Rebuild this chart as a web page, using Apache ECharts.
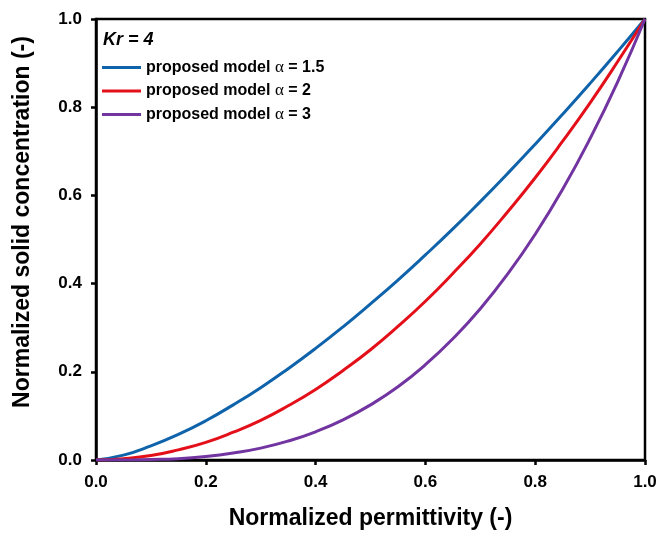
<!DOCTYPE html>
<html>
<head>
<meta charset="utf-8">
<script src="https://cdn.jsdelivr.net/npm/echarts@6/dist/echarts.min.js"></script>
<style>
html,body{margin:0;padding:0;background:#fff;}
#chart{width:661px;height:535px;}
</style>
</head>
<body>
<div id="chart"></div>
<script>
// Data
const xValues = [0, 0.05, 0.1, 0.15, 0.2, 0.25, 0.3, 0.35, 0.4, 0.45, 0.5, 0.55, 0.6, 0.65, 0.7, 0.75, 0.8, 0.85, 0.9, 0.95, 1.0];
const alpha15 = [0, 0.011, 0.032, 0.058, 0.089, 0.125, 0.164, 0.207, 0.253, 0.302, 0.354, 0.408, 0.465, 0.524, 0.586, 0.650, 0.716, 0.784, 0.854, 0.926, 1.0];
const alpha2  = [0, 0.003, 0.010, 0.023, 0.040, 0.063, 0.090, 0.123, 0.160, 0.203, 0.250, 0.303, 0.360, 0.423, 0.490, 0.563, 0.640, 0.723, 0.810, 0.903, 1.0];
const alpha3  = [0, 0.000, 0.001, 0.003, 0.008, 0.016, 0.027, 0.043, 0.064, 0.091, 0.125, 0.166, 0.216, 0.275, 0.343, 0.422, 0.512, 0.614, 0.729, 0.857, 1.0];
const seriesNames = ['proposed model α = 1.5', 'proposed model α = 2', 'proposed model α = 3'];
const alphaLabels = ['1.5', '2', '3'];
const tickValues = [0, 0.2, 0.4, 0.6, 0.8, 1.0];
const annotation = 'Kr = 4';
const xTitle = 'Normalized permittivity (-)';
const yTitle = 'Normalized solid concentration (-)';

const colors = ['#0f63ab', '#e3101a', '#7134a0'];
const FONT = 'Liberation Sans, Arial, sans-serif';

function pairs(ys) { return xValues.map((x, i) => [x, ys[i]]); }

const chart = echarts.init(document.getElementById('chart'));
const axisCommon = {
  min: 0, max: 1, interval: 0.2,
  axisLine: { show: true, lineStyle: { color: '#000', width: 2.5 } },
  axisTick: { show: true, inside: false, length: 5, lineStyle: { color: '#000', width: 2.5 } },
  splitLine: { show: false },
  axisLabel: { color: '#000', fontWeight: 'bold', fontSize: 17, fontFamily: FONT, margin: 14,
    formatter: v => v.toFixed(1) },
  nameTextStyle: { color: '#000', fontWeight: 'bold', fontSize: 23, fontFamily: FONT }
};
chart.setOption({
  animation: false,
  backgroundColor: '#fff',
  grid: { left: 96, right: 16, top: 19, bottom: 73, show: true, borderColor: '#000', borderWidth: 2.5, backgroundColor: 'transparent' },
  xAxis: Object.assign({}, axisCommon, { type: 'value', name: xTitle, nameLocation: 'middle', nameGap: 47 }),
  yAxis: Object.assign({}, axisCommon, { type: 'value', name: '' }),
  legend: {
    orient: 'vertical', left: 102, top: 59, itemGap: 6.5, padding: 0,
    itemWidth: 39, itemHeight: 16, icon: 'path://M0,6.5 L39,6.5 L39,9.5 L0,9.5 Z',
    data: seriesNames,
    formatter: name => {
      const i = seriesNames.indexOf(name);
      return '{a|proposed model }{b|α}{a| = ' + alphaLabels[i] + '}';
    },
    textStyle: {
      rich: {
        a: { color: '#000', fontWeight: 'bold', fontSize: 16, fontFamily: FONT },
        b: { color: '#000', fontSize: 17, fontFamily: 'Liberation Serif, serif' }
      }
    }
  },
  graphic: [{
    type: 'text', left: 103, top: 31,
    style: { text: annotation, fill: '#000', font: 'italic bold 18px Liberation Sans, Arial, sans-serif' }
  }, {
    type: 'text', x: 23, y: 222, rotation: Math.PI / 2,
    style: { text: yTitle, fill: '#000', font: 'bold 23px Liberation Sans, Arial, sans-serif',
      align: 'center', verticalAlign: 'middle' }
  }],
  series: [alpha15, alpha2, alpha3].map((d, i) => ({
    name: seriesNames[i], type: 'line', data: pairs(d), smooth: true, showSymbol: false,
    lineStyle: { color: colors[i], width: 3 }, itemStyle: { color: colors[i] }
  }))
});
</script>
</body>
</html>
